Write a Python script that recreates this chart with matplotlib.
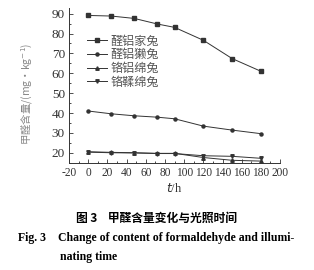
import matplotlib
matplotlib.use("Agg")
import matplotlib.pyplot as plt
from matplotlib.ticker import MultipleLocator

# 光照时间 / h
hours = [0, 24, 48, 72, 90, 120, 150, 180]
# 甲醛含量 mg/kg
jiatu = [89.1, 88.8, 87.6, 84.8, 83.1, 76.6, 67.4, 61.0]
tatu = [41.0, 39.6, 38.6, 37.9, 37.1, 33.4, 31.4, 29.6]
mianyang_al = [20.5, 20.2, 20.0, 19.7, 19.7, 17.6, 16.2, 15.8]
mianyang_cr = [20.3, 20.0, 19.9, 19.6, 19.6, 18.5, 18.2, 17.2]
names = ["醛铝家兔", "醛铝獭兔", "铬铝绵兔", "铬鞣绵兔"]

plt.rcParams['font.family'] = ['Liberation Serif', 'Noto Sans CJK SC']
plt.rcParams['axes.unicode_minus'] = False

fig = plt.figure(figsize=(3.14, 2.70), dpi=100)
ax = fig.add_axes([0.22, 0.396, 0.672, 0.574])

lc = '#333333'
ax.plot(hours, jiatu, marker='s', ms=2.5, color=lc, lw=0.7, label=names[0])
ax.plot(hours, tatu, marker='o', ms=2.2, color=lc, lw=0.7, label=names[1])
ax.plot(hours, mianyang_al, marker='^', ms=2.5, color=lc, lw=0.7, label=names[2])
ax.plot(hours, mianyang_cr, marker='v', ms=2.5, color=lc, lw=0.7, label=names[3])

ax.set_xlim(-20, 200)
ax.set_ylim(14.8, 92.8)
ax.set_xticks(range(-20, 201, 20))
ax.set_yticks(range(20, 91, 10))
ax.xaxis.set_minor_locator(MultipleLocator(10))
ax.yaxis.set_minor_locator(MultipleLocator(5))
ax.tick_params(direction='in', colors='#333333', length=3, width=0.6, pad=3)
ax.tick_params(axis='x', labelsize=8.3)
ax.tick_params(axis='y', labelsize=9.5)
ax.tick_params(which='minor', direction='in', length=1.5, width=0.5)
for s in ['top', 'right']:
    ax.spines[s].set_visible(False)
for s in ['left', 'bottom']:
    ax.spines[s].set_linewidth(0.7)
    ax.spines[s].set_color('#333333')

ax.set_xlabel('$t$/h', fontsize=9, color='#333333', labelpad=2)
ax.set_ylabel('甲醛含量/(mg·kg$^{-1}$)', fontsize=7.5, color='#888888', labelpad=5,
              family=['Noto Sans CJK SC', 'DejaVu Sans'])
ax.yaxis.set_label_coords(-0.16, 0.45)

leg = ax.legend(loc='upper left', bbox_to_anchor=(0.06, 0.86), frameon=False,
                handlelength=1.7, handletextpad=0.3, labelspacing=0.05,
                borderaxespad=0, prop={'family': ['Noto Sans CJK SC'], 'size': 8.7})
for t in leg.get_texts():
    t.set_color('#555555')

fig.text(0.5, 0.192, '图 3    甲醛含量变化与光照时间', ha='center', va='center',
         fontsize=8.5, fontweight='bold', family=['Noto Sans CJK SC'])
fig.text(0.057, 0.118, 'Fig. 3    Change of content of formaldehyde and illumi-',
         ha='left', va='center', fontsize=8.5, fontweight='bold',
         family=['Liberation Serif'])
fig.text(0.19, 0.048, 'nating time', ha='left', va='center', fontsize=8.5,
         fontweight='bold', family=['Liberation Serif'])

fig.savefig('out.png', dpi=100)
